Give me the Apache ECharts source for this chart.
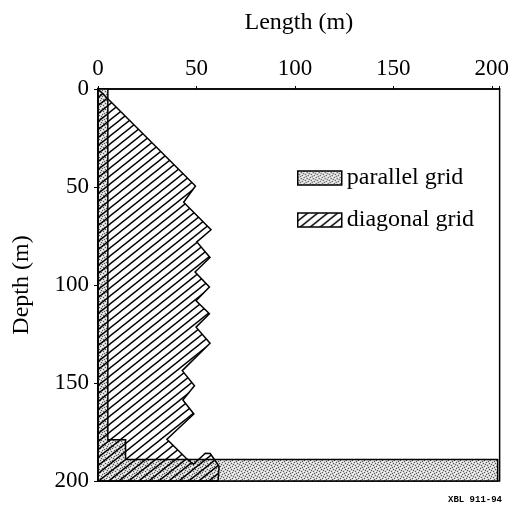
<!DOCTYPE html>
<html>
<head>
<meta charset="utf-8">
<script src="https://cdn.jsdelivr.net/npm/echarts@6/dist/echarts.min.js"></script>
<style>
  html, body { margin: 0; padding: 0; background: #fff; }
  #chart { width: 512px; height: 509px; }
</style>
</head>
<body>
<div id="chart"></div>
<script>
// values (length in m, depth in m)
var xTicks = [0, 50, 100, 150, 200];
var yTicks = [0, 50, 100, 150, 200];

var parallelLength = [5, 5, 14, 14, 203, 203];
var parallelDepth  = [0, 179, 179, 189, 189, 200];

var diagonalLength = [0, 49.5, 43.5, 57.4, 50.2, 56.9, 49.3, 56.6, 49.8, 56.6, 49.8, 56.9, 42.8, 49, 43.1, 48.7, 35, 44.8, 48.5, 54.5, 57, 61.5, 61];
var diagonalDepth  = [0, 49.5, 57.8, 71.8, 78, 86, 93.4, 101, 108, 114.7, 121.5, 129.7, 143.7, 151.4, 158.7, 165.8, 178.7, 188.4, 191.5, 185.8, 186, 192.5, 200];

// fill patterns
function makeHatch() {
  var w = 10, h = 8;
  var c = document.createElement('canvas');
  c.width = w; c.height = h;
  var ctx = c.getContext('2d');
  ctx.strokeStyle = '#000';
  ctx.lineWidth = 1.4;
  [0, h, 2 * h].forEach(function (off) {
    ctx.beginPath();
    ctx.moveTo(-w, off + h);
    ctx.lineTo(2 * w, off - 2 * h);
    ctx.stroke();
  });
  return c;
}

function makeStipple() {
  var c = document.createElement('canvas');
  c.width = 6; c.height = 6;
  var ctx = c.getContext('2d');
  ctx.fillStyle = '#d4d4d4';
  ctx.fillRect(0, 0, 6, 6);
  ctx.fillStyle = '#555';
  [[0, 0], [3, 1], [1, 3], [4, 4], [5, 2], [2, 5]].forEach(function (p) {
    ctx.fillRect(p[0], p[1], 1, 1);
  });
  ctx.fillStyle = '#fff';
  [[1, 1], [4, 0], [0, 4], [3, 3], [5, 5]].forEach(function (p) {
    ctx.fillRect(p[0], p[1], 1, 1);
  });
  return c;
}

var hatchFill = { image: makeHatch(), repeat: 'repeat' };
var stippleFill = { image: makeStipple(), repeat: 'repeat' };

function areaSeries(name, lens, depths, fill, z) {
  var pts = lens.map(function (l, i) { return [l, depths[i]]; });
  return {
    name: name,
    type: 'custom',
    z: z,
    data: pts,
    itemStyle: { color: fill, borderColor: '#000', borderWidth: 1.5 },
    renderItem: function (params, api) {
      if (params.dataIndex !== 0) return;
      var poly = pts.map(function (p) { return api.coord(p); });
      poly.push(api.coord([0, depths[depths.length - 1]]));
      poly.push(api.coord([0, depths[0]]));
      return {
        type: 'polygon',
        shape: { points: poly },
        style: { fill: fill, stroke: '#000', lineWidth: 1.5 }
      };
    }
  };
}

var font = 'Liberation Serif';
var chart = echarts.init(document.getElementById('chart'));
chart.setOption({
  animation: false,
  backgroundColor: '#fff',
  grid: {
    left: 98, right: 11, top: 89, bottom: 28,
    show: true, borderColor: '#000', borderWidth: 1.5
  },
  xAxis: {
    type: 'value', position: 'top', min: 0, max: 204, interval: 50,
    name: 'Length (m)', nameLocation: 'middle', nameGap: 54,
    nameTextStyle: { fontFamily: font, fontSize: 24, color: '#000' },
    axisLine: { show: true, lineStyle: { color: '#000', width: 1.5 } },
    axisTick: { show: true, length: 3, lineStyle: { color: '#000' } },
    axisLabel: {
      fontFamily: font, fontSize: 23, color: '#000', margin: 9,
      formatter: function (v) { return xTicks.indexOf(v) >= 0 ? String(v) : ''; }
    },
    splitLine: { show: false }
  },
  yAxis: {
    type: 'value', inverse: true, min: 0, max: 200, interval: 50,
    name: 'Depth (m)', nameLocation: 'middle', nameGap: 64,
    nameTextStyle: { fontFamily: font, fontSize: 24, color: '#000' },
    axisLine: { show: true, lineStyle: { color: '#000', width: 1.5 } },
    axisTick: { show: true, length: 4, lineStyle: { color: '#000' } },
    axisLabel: {
      fontFamily: font, fontSize: 23, color: '#000', margin: 9,
      formatter: function (v) { return yTicks.indexOf(v) >= 0 ? String(v) : ''; }
    },
    splitLine: { show: false }
  },
  legend: {
    orient: 'vertical', left: 292, top: 161, itemGap: 18,
    itemWidth: 44, itemHeight: 14, icon: 'rect',
    itemStyle: { borderColor: '#000', borderWidth: 1.5 },
    textStyle: { fontFamily: font, fontSize: 24, color: '#000' },
    data: ['parallel grid', 'diagonal grid']
  },
  graphic: [{
    type: 'text', left: 448, top: 495,
    style: { text: 'XBL 911-94', font: 'bold 9px "Liberation Mono"', fill: '#000' }
  }],
  series: [
    areaSeries('parallel grid', parallelLength, parallelDepth, stippleFill, 2),
    areaSeries('diagonal grid', diagonalLength, diagonalDepth, hatchFill, 3)
  ]
});
</script>
</body>
</html>
